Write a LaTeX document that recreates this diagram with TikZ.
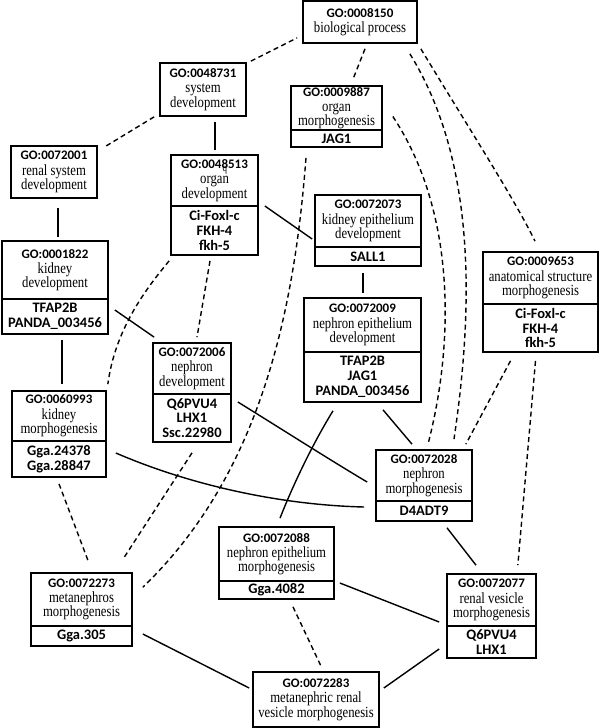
\documentclass[tikz,border=0pt]{standalone}
\usepackage{fontspec}
\setmainfont{Liberation Serif}[FakeStretch=0.82]
\newfontfamily\carl{Carlito}
\usetikzlibrary{fit,calc}
\AtBeginDocument{\lineskiplimit=-20pt\relax}
\newcommand\gt[1]{{\carl\bfseries\fontsize{13}{15}\selectfont #1}}
\tikzset{
  gobox/.style={draw, line width=1.7pt, inner sep=0pt},
  divline/.style={line width=1.1pt},
  uptext/.style={align=center, inner sep=0pt, font=\fontsize{15.5}{14.3}\selectfont},
  gntext/.style={align=center, inner sep=0pt, font=\carl\bfseries\fontsize{14.5}{14.8}\selectfont},
  sld/.style={line width=1.4pt},
  dsh/.style={line width=1.4pt, dash pattern=on 5pt off 3.5pt},
}
\newcommand\gobox[8]{%
  \node[gobox, fit={(#2,#3) (#4,#5)}] (#1) {};
  \draw[divline] (#2,#6) -- (#4,#6);
  \node[uptext] at ({(#2+#4)/2},{(#3+#6)/2}) {#7};
  \node[gntext] at ({(#2+#4)/2},{(#6+#5)/2}) {#8};
}
\newcommand\goboxs[6]{%
  \node[gobox, fit={(#2,#3) (#4,#5)}] (#1) {};
  \node[uptext] at ({(#2+#4)/2},{(#3+#5)/2}) {#6};
}
\begin{document}
\begin{tikzpicture}[x=1pt,y=-1pt]
\useasboundingbox[fill=white] (0,0) rectangle (600,728);
% boxes
\goboxs{bio}{303}{1}{417}{43}{\gt{GO:0008150}\\[1pt] biological process}
\goboxs{sysdev}{160}{63}{246}{116}{\gt{GO:0048731}\\[1pt] system\\ development}
\gobox{orgm}{291}{86}{382}{147}{130}{\gt{GO:0009887}\\[1pt] organ\\ morphogenesis}{JAG1}
\goboxs{rsd}{11}{146}{97}{198}{\gt{GO:0072001}\\[1pt] renal system\\ development}
\gobox{orgd}{171}{155}{258}{255}{206}{\gt{GO:0048513}\\[1pt] organ\\ development}{Ci-Foxl-c\\ FKH-4\\ fkh-5}
\node[font=\fontsize{11}{11}\selectfont, inner sep=0pt] (qmark) at (225,170) {q};
\gobox{ked}{315}{195}{421}{266}{247}{\gt{GO:0072073}\\[1pt] kidney epithelium\\ development}{SALL1}
\gobox{kd}{2}{241}{108}{334}{299}{\gt{GO:0001822}\\[1pt] kidney\\ development}{TFAP2B\\ PANDA\_003456}
\gobox{asm}{483}{252}{598}{352}{304}{\gt{GO:0009653}\\[1pt] anatomical structure\\ morphogenesis}{Ci-Foxl-c\\ FKH-4\\ fkh-5}
\gobox{ned}{304}{298}{421}{402}{352}{\gt{GO:0072009}\\[1pt] nephron epithelium\\ development}{TFAP2B\\ JAG1\\ PANDA\_003456}
\gobox{nd}{153}{343}{231}{442}{394}{\gt{GO:0072006}\\[1pt] nephron\\ development}{Q6PVU4\\ LHX1\\ Ssc.22980}
\gobox{km}{12}{391}{106}{477}{441}{\gt{GO:0060993}\\[1pt] kidney\\ morphogenesis}{Gga.24378\\ Gga.28847}
\gobox{nm}{376}{450}{472}{521}{501}{\gt{GO:0072028}\\[1pt] nephron\\ morphogenesis}{D4ADT9}
\gobox{nem}{219}{527}{334}{599}{581}{\gt{GO:0072088}\\[1pt] nephron epithelium\\ morphogenesis}{Gga.4082}
\gobox{mm}{31}{573}{132}{646}{626}{\gt{GO:0072273}\\[1pt] metanephros\\ morphogenesis}{Gga.305}
\gobox{rvm}{447}{574}{536}{658}{626}{\gt{GO:0072077}\\[1pt] renal vesicle\\ morphogenesis}{Q6PVU4\\ LHX1}
\goboxs{mrvm}{253}{672}{379}{727}{\gt{GO:0072283}\\[1pt] metanephric renal\\ vesicle morphogenesis}
% dashed connectors
\draw[dsh] ($(sysdev.north east)+(4,-1)$) -- ($(bio.south west)+(-5,-6)$);
\draw[dsh] ($(bio.south)+(5,5)$) -- ($(orgm.north)+(16.5,-6)$);
\draw[dsh] ($(orgm.east)+(10,0)$) .. controls (455,210) and (455,340) .. ($(nm.north)+(4,-5)$);
\draw[dsh] ($(bio.south east)+(-8,10)$) .. controls (482,170) and (470,330) .. ($(nm.north)+(30,-10)$);
\draw[dsh] ($(bio.south east)+(3,5)$) .. controls (470,130) and (515,200) .. ($(asm.north)+(-5.5,-10)$);
\draw[dsh] ($(asm.south)+(-30,8)$) -- ($(nm.north east)+(-7,-5)$);
\draw[dsh] ($(asm.south)+(-5,8)$) -- ($(rvm.north east)+(-19,-8)$);
\draw[dsh] ($(orgd.south west)+(-1,5)$) .. controls (145,290) and (115,330) .. ($(km.north east)+(1,-6)$);
\draw[dsh] ($(orgd.south)+(-4.5,5)$) -- ($(nd.north)+(5,-5)$);
\draw[dsh] ($(orgm.south)+(-30.5,10)$) .. controls (295,300) and (265,470) .. ($(mm.north east)+(10,15)$);
\draw[dsh] ($(nd.south)+(0,10)$) -- ($(mm.north)+(41.5,-13)$);
\draw[dsh] ($(km.south)+(0,6)$) -- ($(mm.north)+(7.5,-9)$);
\draw[dsh] ($(nem.south)+(16.5,7)$) -- ($(mrvm.north)+(5,-5)$);
\draw[dsh] ($(sysdev.south west)+(-5,0)$) -- ($(rsd.north east)+(8,1)$);
% solid connectors
\draw[sld] ($(sysdev.south)+(12,5)$) -- ($(orgd.north)+(0.5,-4)$);
\draw[sld] ($(rsd.south)+(4,9)$) -- ($(kd.north)+(3,-3)$);
\draw[sld] ($(orgd.east)+(6,1)$) -- ($(ked.west)+(-2,8.5)$);
\draw[sld] ($(ked.south)+(-5,6)$) -- ($(ned.north)+(0.5,-4)$);
\draw[sld] ($(kd.east)+(6,22.5)$) -- ($(nd.north west)+(2,-5)$);
\draw[sld] ($(kd.south)+(7,5)$) -- ($(km.north)+(3,-6)$);
\draw[sld] ($(nd.east)+(6,9.5)$) .. controls (280,428) and (330,460) .. ($(nm.west)+(-8,-3.5)$);
\draw[sld] ($(km.east)+(9,19)$) .. controls (190,485) and (280,505) .. ($(nm.west)+(-11,21.5)$);
\draw[sld] ($(ned.south)+(-29.5,8)$) .. controls (315,440) and (295,480) .. ($(nem.north)+(3.5,-8)$);
\draw[sld] ($(ned.south)+(20.5,7)$) -- ($(nm.north)+(-12,-5)$);
\draw[sld] ($(nm.south)+(23,6)$) -- ($(rvm.north)+(-15.5,-8)$);
\draw[sld] ($(nem.east)+(5,20)$) -- ($(rvm.west)+(-7,6)$);
\draw[sld] ($(mm.east)+(10,24.5)$) -- ($(mrvm.west)+(-3,-11.5)$);
\draw[sld] ($(rvm.west)+(-7,33)$) -- ($(mrvm.east)+(4,-11.5)$);
\end{tikzpicture}
\end{document}
